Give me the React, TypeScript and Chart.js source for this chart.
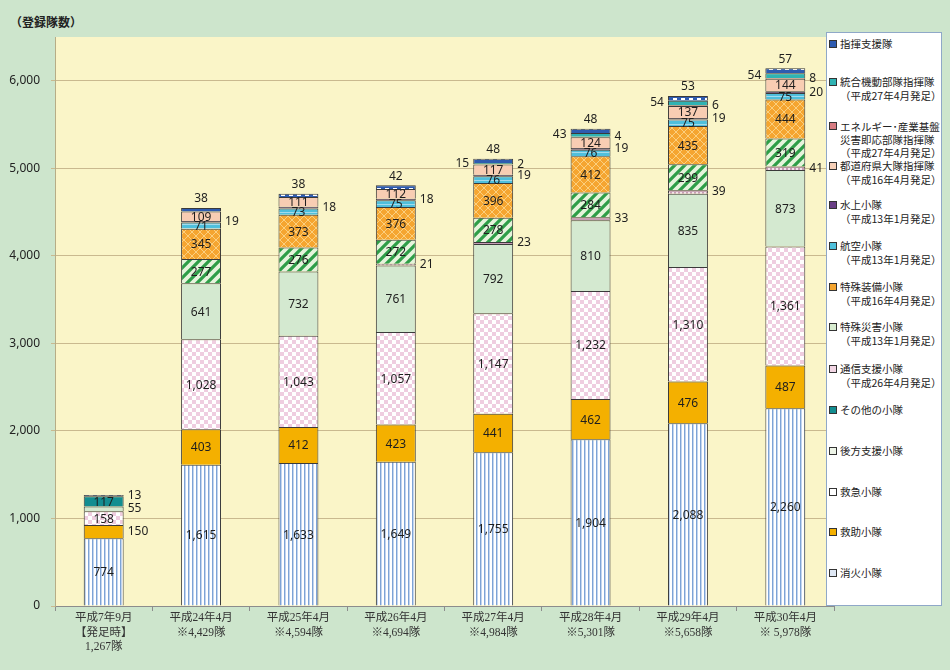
import React, { useEffect, useRef } from "react";
import { Chart, registerables } from "chart.js";

Chart.register(...registerables);

// ---- data ----
const categoryLabels: string[][] = [
  ["平成7年9月", "【発足時】", "1,267隊"],
  ["平成24年4月", "※4,429隊"],
  ["平成25年4月", "※4,594隊"],
  ["平成26年4月", "※4,694隊"],
  ["平成27年4月", "※4,984隊"],
  ["平成28年4月", "※5,301隊"],
  ["平成29年4月", "※5,658隊"],
  ["平成30年4月", "※ 5,978隊"],
];

// stacked bottom -> top
const shokaValues = [774, 1615, 1633, 1649, 1755, 1904, 2088, 2260];
const kyujoValues = [150, 403, 412, 423, 441, 462, 476, 487];
const kyukyuValues = [158, 1028, 1043, 1057, 1147, 1232, 1310, 1361];
const kohoValues = [55, 641, 732, 761, 792, 810, 835, 873];
const sonotaValues = [117, null, null, null, null, null, null, null];
const tsushinValues = [null, null, null, 21, 23, 33, 39, 41];
const tokusaiValues = [null, 277, 276, 272, 278, 284, 299, 319];
const tokusoValues = [null, 345, 373, 376, 396, 412, 435, 444];
const kokuValues = [null, 71, 73, 75, 76, 76, 75, 75];
const suijoValues = [null, 19, 18, 18, 19, 19, 19, 20];
const todofukenValues = [null, 109, 111, 112, 117, 124, 137, 144];
const energyValues = [null, null, null, null, 2, 4, 6, 8];
const togoValues = [null, null, null, null, 15, 43, 54, 54];
const shikiValues = [13, 38, 38, 42, 48, 48, 53, 57];

const seriesNames = [
  "消火小隊",
  "救助小隊",
  "救急小隊",
  "後方支援小隊",
  "その他の小隊",
  "通信支援小隊",
  "特殊災害小隊",
  "特殊装備小隊",
  "航空小隊",
  "水上小隊",
  "都道府県大隊指揮隊",
  "エネルギー・産業基盤災害即応部隊指揮隊",
  "統合機動部隊指揮隊",
  "指揮支援隊",
];
const seriesValues = [
  shokaValues, kyujoValues, kyukyuValues, kohoValues, sonotaValues, tsushinValues,
  tokusaiValues, tokusoValues, kokuValues, suijoValues, todofukenValues,
  energyValues, togoValues, shikiValues,
];

// legend text (top -> bottom)
const legendLines: string[][] = [
  ["指揮支援隊"],
  ["統合機動部隊指揮隊", "（平成27年4月発足）"],
  ["エネルギー･産業基盤", "災害即応部隊指揮隊", "（平成27年4月発足）"],
  ["都道府県大隊指揮隊", "（平成16年4月発足）"],
  ["水上小隊", "（平成13年1月発足）"],
  ["航空小隊", "（平成13年1月発足）"],
  ["特殊装備小隊", "（平成16年4月発足）"],
  ["特殊災害小隊", "（平成13年1月発足）"],
  ["通信支援小隊", "（平成26年4月発足）"],
  ["その他の小隊"],
  ["後方支援小隊"],
  ["救急小隊"],
  ["救助小隊"],
  ["消火小隊"],
];

// ---- styles ----
const legendFirstLineY = [44, 82, 126, 166, 205, 246, 287, 327, 369, 410, 451, 492, 532, 573];
const legendIconColors = [
  "#2d5bb0", "#2fb3b3", "#d77c82", "#f6d0b8", "#6a3f86", "#4fc0dc",
  "#f5a530", "#d8ecd0", "#f2d6e4", "#138d90", "#eef5e8", "#ffffff", "#f4b000", "#dfe8f5",
];
// label placement per series: inside / right / left / top
const labelSide = [
  "inside", "inside", "inside", "inside", "inside", "right", "inside",
  "inside", "inside", "right", "inside", "right", "left", "top",
];
const firstBarRight = [1, 3, 13];

function makePatterns(ctx: CanvasRenderingContext2D) {
  const mk = (w: number, h: number, draw: (c: CanvasRenderingContext2D) => void) => {
    const cv = document.createElement("canvas");
    cv.width = w;
    cv.height = h;
    const c = cv.getContext("2d")!;
    draw(c);
    return ctx.createPattern(cv, "repeat")!;
  };
  const shoka = mk(4, 4, (c) => {
    c.fillStyle = "#ffffff"; c.fillRect(0, 0, 4, 4);
    c.fillStyle = "#7da3d6"; c.fillRect(0, 0, 1, 4);
    c.fillStyle = "#c3d5ee"; c.fillRect(1, 0, 1, 4);
  });
  const kyukyu = mk(8, 8, (c) => {
    c.fillStyle = "#ffffff"; c.fillRect(0, 0, 8, 8);
    c.fillStyle = "#efcde0"; c.fillRect(0, 0, 4, 4); c.fillRect(4, 4, 4, 4);
  });
  const tsushin = mk(4, 4, (c) => {
    c.fillStyle = "#c79cb6"; c.fillRect(0, 0, 4, 4);
    c.fillStyle = "#f3e2ec"; c.fillRect(0, 0, 2, 2);
  });
  const tokusai = mk(10, 10, (c) => {
    c.fillStyle = "#e6f4dc"; c.fillRect(0, 0, 10, 10);
    c.strokeStyle = "#2e9e48"; c.lineWidth = 3.2;
    c.beginPath();
    c.moveTo(-5, 5); c.lineTo(5, -5);
    c.moveTo(-5, 15); c.lineTo(15, -5);
    c.moveTo(5, 15); c.lineTo(15, 5);
    c.stroke();
  });
  const tokuso = mk(8, 8, (c) => {
    c.fillStyle = "#f5a530"; c.fillRect(0, 0, 8, 8);
    c.strokeStyle = "#fbcf7e"; c.lineWidth = 1;
    c.beginPath();
    c.moveTo(0, 0); c.lineTo(8, 8);
    c.moveTo(8, 0); c.lineTo(0, 8);
    c.stroke();
  });
  const koku = mk(4, 4, (c) => {
    c.fillStyle = "#4fbfdc"; c.fillRect(0, 0, 4, 4);
    c.fillStyle = "#a3dbec"; c.fillRect(0, 0, 4, 1);
  });
  const shiki = mk(8, 6, (c) => {
    c.fillStyle = "#2d5bb0"; c.fillRect(0, 0, 8, 6);
    c.fillStyle = "#ffffff"; c.fillRect(1, 2, 4, 2);
  });
  return [
    shoka, "#f4b000", kyukyu, "#d4e9d0", "#138d90", tsushin, tokusai, tokuso, koku,
    "#5a3c6e", "#f8cdb3", "#d77c82", "#2fb3b3", shiki,
  ];
}

const plotBgPlugin = {
  id: "plotBg",
  beforeDraw(chart: any) {
    const { ctx, chartArea } = chart;
    ctx.save();
    ctx.fillStyle = "#faf5c8";
    ctx.fillRect(chartArea.left, chartArea.top, chartArea.right - chartArea.left, chartArea.bottom - chartArea.top);
    ctx.restore();
  },
};

const valueLabelPlugin = {
  id: "valueLabels",
  afterDatasetsDraw(chart: any) {
    const { ctx } = chart;
    ctx.save();
    ctx.font = '12px "Noto Sans", sans-serif';
    ctx.fillStyle = "#1e1e1e";
    chart.data.datasets.forEach((ds: any, di: number) => {
      const meta = chart.getDatasetMeta(di);
      meta.data.forEach((bar: any, i: number) => {
        const v = ds.data[i];
        if (v == null) return;
        const { x, y, base, width } = bar.getProps(["x", "y", "base", "width"], true);
        const cy = (y + base) / 2;
        let side = labelSide[di];
        if (i === 0 && firstBarRight.includes(di)) side = "right";
        const txt = v.toLocaleString("en-US");
        ctx.textBaseline = "middle";
        if (side === "inside") {
          ctx.textAlign = "center";
          ctx.fillText(txt, x, cy + 1);
        } else if (side === "right") {
          ctx.textAlign = "left";
          ctx.fillText(txt, x + width / 2 + 4, cy);
        } else if (side === "left") {
          ctx.textAlign = "right";
          ctx.fillText(txt, x - width / 2 - 4, cy);
        } else {
          ctx.textAlign = "center";
          ctx.fillText(txt, x, y - 9);
        }
      });
    });
    ctx.restore();
  },
};

export default function App() {
  const ref = useRef<HTMLCanvasElement>(null);
  useEffect(() => {
    const canvas = ref.current!;
    const ctx = canvas.getContext("2d")!;
    const fills = makePatterns(ctx);
    const chart = new Chart(ctx, {
      type: "bar",
      data: {
        labels: categoryLabels,
        datasets: seriesNames.map((name, k) => ({
          label: name,
          data: seriesValues[k],
          backgroundColor: fills[k] as any,
          borderColor: "#3a3a3a",
          borderWidth: 1,
          barPercentage: 0.41,
          categoryPercentage: 1,
        })),
      },
      options: {
        responsive: false,
        animation: false,
        layout: { padding: { left: 8, right: 116, top: 37, bottom: 0 } },
        plugins: { legend: { display: false }, tooltip: { enabled: false } },
        scales: {
          x: {
            stacked: true,
            offset: true,
            grid: { display: true, drawOnChartArea: false, tickLength: 5, color: "#8c8c8c", offset: true },
            border: { display: true, color: "#8c8c8c" },
            ticks: {
              color: "#333",
              padding: 0,
              font: { family: '"Liberation Serif", "Noto Sans CJK JP", serif', size: 11.5, lineHeight: 1.25 },
              maxRotation: 0,
              autoSkip: false,
            },
            afterFit(scale: any) { scale.height = 64; },
          },
          y: {
            stacked: true,
            min: 0,
            max: 6500,
            ticks: {
              stepSize: 500,
              autoSkip: false,
              color: "#222",
              padding: 11,
              font: { family: '"Noto Sans", sans-serif', size: 12 },
              callback: (v: any) => (Number(v) % 1000 === 0 ? Number(v).toLocaleString("en-US") : ""),
            },
            grid: {
              color: (c: any) => (c.tick && c.tick.value % 1000 === 0 ? "#c9b98f" : "rgba(0,0,0,0)"),
              drawTicks: true,
              tickLength: 4,
              lineWidth: 1,
            },
            border: { display: true, color: "#b7ad86" },
            afterFit(scale: any) { scale.width = 47; },
          },
        },
      },
      plugins: [plotBgPlugin, valueLabelPlugin],
    });
    return () => chart.destroy();
  }, []);

  return (
    <div
      style={{
        position: "absolute",
        left: 0,
        top: 0,
        width: 950,
        height: 670,
        background: "#cde5cc",
        overflow: "hidden",
        fontFamily: '"Noto Sans CJK JP", sans-serif',
      }}
    >
      <div style={{ position: "absolute", left: 10, top: 13, fontSize: 12, fontWeight: 700, color: "#222" }}>
        （登録隊数）
      </div>
      <canvas ref={ref} width={950} height={670} style={{ position: "absolute", left: 0, top: 0 }} />
      <div
        style={{
          position: "absolute",
          left: 826,
          top: 32,
          width: 116,
          height: 574,
          background: "#ffffff",
          border: "1px solid #8fa8c8",
          boxSizing: "border-box",
        }}
      >
        {legendLines.map((lines, i) => {
          const lh = lines.length > 2 ? 13 : 14;
          return (
            <div
              key={i}
              style={{
                position: "absolute",
                left: 2,
                top: legendFirstLineY[i] - 32 - 1 - lh / 2,
                display: "flex",
                alignItems: "flex-start",
                fontSize: 10.5,
                lineHeight: lh + "px",
                color: "#222",
                whiteSpace: "nowrap",
              }}
            >
              <span
                style={{
                  display: "inline-block",
                  width: 6,
                  height: 6,
                  marginTop: lh / 2 - 4,
                  marginRight: 3,
                  background: legendIconColors[i],
                  border: "1px solid #333",
                }}
              />
              <div>
                {lines.map((l, j) => (
                  <div key={j}>{l}</div>
                ))}
              </div>
            </div>
          );
        })}
      </div>
    </div>
  );
}
